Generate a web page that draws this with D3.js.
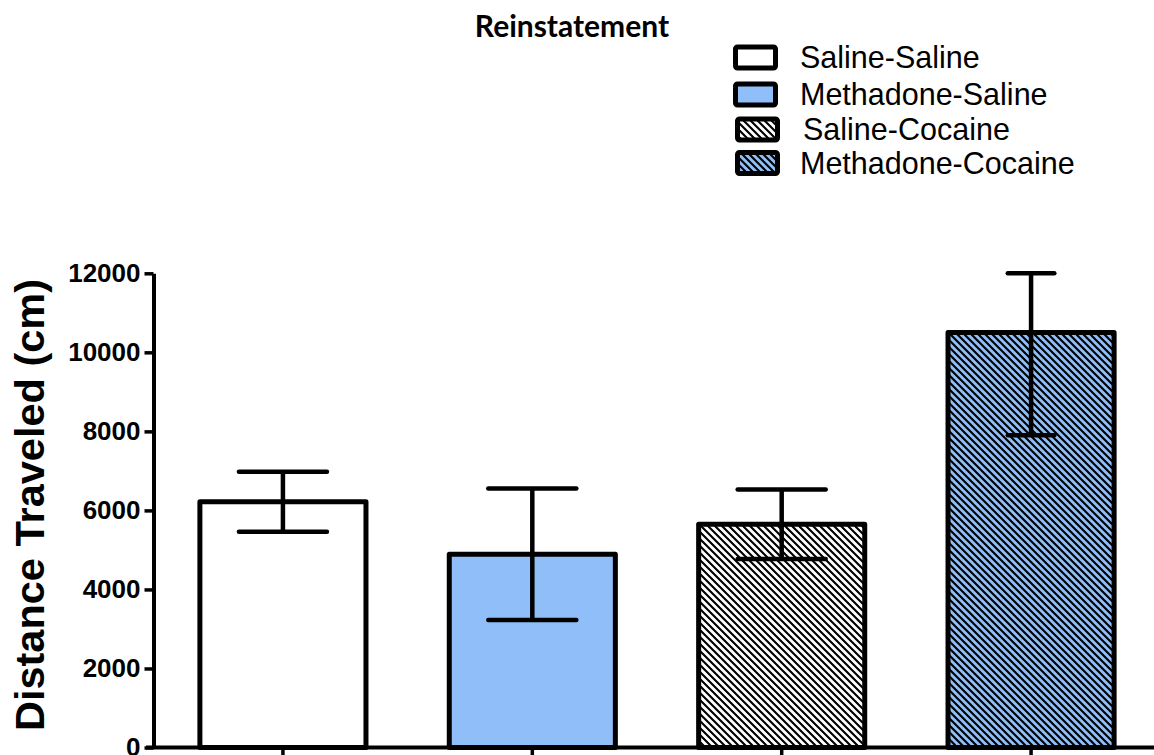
<!DOCTYPE html>
<html>
<head>
<meta charset="utf-8">
<script src="https://cdn.jsdelivr.net/npm/d3@7"></script>
<style>
  html, body { margin: 0; padding: 0; background: #fff; }
  svg { display: block; }
</style>
</head>
<body>
<svg id="chart" width="1154" height="755"></svg>
<script>
// Treatment groups and mean distance traveled (cm) with SEM
const groups = ["Saline-Saline", "Methadone-Saline", "Saline-Cocaine", "Methadone-Cocaine"];
const means = [6220, 4890, 5650, 10500];
const sems = [760, 1665, 880, 2600];
const yTicks = [0, 2000, 4000, 6000, 8000, 10000, 12000];

// Visual encoding per group
const fills = ["#ffffff", "#8fbef8", "#ffffff", "#8fbef8"];
const hatched = [false, false, true, true];
const capFrac = [0.53, 0.53, 0.53, 0.28];

const svg = d3.select("#chart");
const W = 1154, H = 755;
const FONT = "'Liberation Sans', Arial, sans-serif";

// Diagonal hatch patterns (white and blue grounds)
const defs = svg.append("defs");
function hatch(id, bg) {
  const p = defs.append("pattern")
    .attr("id", id)
    .attr("patternUnits", "userSpaceOnUse")
    .attr("width", 7).attr("height", 7);
  p.append("rect").attr("width", 7).attr("height", 7).attr("fill", bg);
  p.append("path")
    .attr("d", "M-1,-1 L8,8 M-1,6 L1,8 M6,-1 L8,1")
    .attr("stroke", "#000").attr("stroke-width", 2.1);
}
hatch("hatch-white", "#ffffff");
hatch("hatch-blue", "#8fbef8");
const fillFor = i => hatched[i]
  ? (fills[i] === "#ffffff" ? "url(#hatch-white)" : "url(#hatch-blue)")
  : fills[i];

// Scales
const y = d3.scaleLinear().domain([0, 12000]).range([747.5, 273.3]).clamp(true);
const x = d3.scaleBand().domain(groups).range([155, 1159])
  .paddingInner(0.334).paddingOuter(0.18);

// Bars
svg.append("g").selectAll("rect")
  .data(groups)
  .join("rect")
  .attr("x", d => x(d))
  .attr("y", (d, i) => y(means[i]))
  .attr("width", x.bandwidth())
  .attr("height", (d, i) => y(0) - y(means[i]))
  .attr("fill", (d, i) => fillFor(i))
  .attr("stroke", "#000")
  .attr("stroke-width", 5)
  .attr("stroke-linejoin", "round");

// Error bars (mean ± SEM, clipped to the axis range)
const eb = svg.append("g").attr("stroke", "#000").attr("stroke-width", 4.5)
  .attr("stroke-linecap", "round");
groups.forEach((g, i) => {
  const cx = x(g) + x.bandwidth() / 2;
  const hi = y(means[i] + sems[i]);
  const lo = y(means[i] - sems[i]);
  const hw = x.bandwidth() * capFrac[i] / 2;
  eb.append("line").attr("x1", cx).attr("x2", cx).attr("y1", hi).attr("y2", lo)
    .attr("stroke-linecap", "butt");
  eb.append("line").attr("x1", cx - hw).attr("x2", cx + hw).attr("y1", hi).attr("y2", hi);
  eb.append("line").attr("x1", cx - hw).attr("x2", cx + hw).attr("y1", lo).attr("y2", lo);
});

// Y axis
const yAxis = svg.append("g")
  .attr("transform", "translate(153.5,0)")
  .call(d3.axisLeft(y).tickValues(yTicks).tickFormat(d3.format("d"))
    .tickSize(9).tickSizeOuter(0).tickPadding(4));
yAxis.select(".domain").attr("stroke-width", 4);
yAxis.selectAll(".tick line").attr("stroke-width", 3.5);
yAxis.selectAll(".tick text")
  .attr("font-family", FONT).attr("font-weight", "bold")
  .attr("font-size", 26).attr("fill", "#000");

// X axis (ticks below the baseline, no labels)
const xAxis = svg.append("g")
  .attr("transform", `translate(0,${y(0)})`)
  .call(d3.axisBottom(x).tickSize(12).tickSizeOuter(0).tickFormat(""));
xAxis.select(".domain").attr("stroke-width", 4)
  .attr("d", `M146,0H${W + 10}`);
xAxis.selectAll(".tick line").attr("stroke-width", 3.5);

// Y axis title
svg.append("text")
  .attr("transform", "translate(44,505) rotate(-90)")
  .attr("text-anchor", "middle")
  .attr("font-family", FONT).attr("font-weight", "bold")
  .attr("font-size", 41.5).attr("fill", "#000")
  .text("Distance Traveled (cm)");

// Chart title
svg.append("text")
  .attr("x", 572).attr("y", 37)
  .attr("text-anchor", "middle")
  .attr("font-family", "Lato, 'Open Sans', sans-serif").attr("font-weight", "bold")
  .attr("font-size", 30).attr("fill", "#000")
  .text("Reinstatement");

// Legend
const legendRows = [57.5, 94.5, 129.5, 163];
const legendX = [735.5, 735.5, 737.5, 737.5];
const textX = [800, 800, 803, 800];
const lg = svg.append("g");
groups.forEach((g, i) => {
  lg.append("rect")
    .attr("x", legendX[i]).attr("y", legendRows[i] - 10.5)
    .attr("width", 40).attr("height", 21).attr("rx", 2)
    .attr("fill", fillFor(i))
    .attr("stroke", "#000").attr("stroke-width", 5);
  lg.append("text")
    .attr("x", textX[i]).attr("y", legendRows[i] + 10.5)
    .attr("font-family", FONT).attr("font-size", 30.5).attr("fill", "#000")
    .text(g);
});
</script>
</body>
</html>
